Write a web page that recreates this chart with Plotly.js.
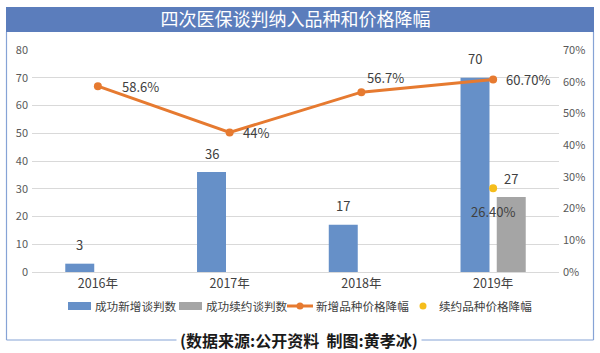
<!DOCTYPE html>
<html>
<head>
<meta charset="utf-8">
<script src="https://cdn.plot.ly/plotly-3.0.1.min.js"></script>
<style>html,body{margin:0;padding:0;background:#fff;}#chart{width:600px;height:353px;}</style>
</head>
<body>
<div id="chart"></div>
<script>
// ---- data ----
const categories = ['2016年', '2017年', '2018年', '2019年'];
const newCount = [3, 36, 17, 70];          // 成功新增谈判数
const renewCount = [null, null, null, 27];  // 成功续约谈判数
const newDrop = [0.586, 0.44, 0.567, 0.607];  // 新增品种价格降幅
const newDropLabels = ['58.6%', '44%', '56.7%', '60.70%'];
const renewDrop = [null, null, null, 0.264];  // 续约品种价格降幅
const renewDropLabels = [null, null, null, '26.40%'];
const seriesNames = ['成功新增谈判数', '成功续约谈判数', '新增品种价格降幅', '续约品种价格降幅'];
const titleText = '四次医保谈判纳入品种和价格降幅';
const sourceText = '(数据来源:公开资料  制图:黄孝冰)';

// ---- style ----
const FONT = '"Noto Sans CJK SC", "Noto Sans", sans-serif';
const BLUE = '#6690c8', GREY = '#a5a5a5', ORANGE = '#e67a30', YELLOW = '#f5bd1c';
const bargap = 0.45, bargroupgap = 0.2;
// label offsets (px) for line labels: [xshift, yshift, xanchor]
const newLabelPos = [[22, 0, 'left'], [11, 0, 'left'], [4, 15, 'left'], [11, 0, 'left']];
const renewLabelPos = [0, -23, 'center'];
// legend layout (px): swatch left edge / centre and text left edge for each entry
const legendSwatchX = [68, 179, 287, 423];
const legendTextX = [94, 205, 315, 438];
const legendY = 306;

// plot area in px
const L = 32, R = 41, T = 50, B = 81, W = 600, H = 353;
const pw = W - L - R, ph = H - T - B;
const px = v => (v - L) / pw;
const py = v => (H - B - v) / ph;

const traces = [
  {type: 'bar', name: seriesNames[0], x: categories, y: newCount, marker: {color: BLUE}, yaxis: 'y'},
  {type: 'bar', name: seriesNames[1], x: categories, y: renewCount, marker: {color: GREY}, yaxis: 'y'},
  {type: 'scatter', mode: 'lines+markers', name: seriesNames[2], x: categories, y: newDrop, yaxis: 'y2',
   line: {color: ORANGE, width: 3}, marker: {color: ORANGE, size: 8}},
  {type: 'scatter', mode: 'markers', name: seriesNames[3], x: categories, y: renewDrop, yaxis: 'y2',
   marker: {color: YELLOW, size: 8}}
];

// bar slot offset in px
const catW = pw / categories.length;
const slot = catW * (1 - bargap) / 2;
const LBL = {family: FONT, size: 13, color: '#404040'};
const annotations = [];
newCount.forEach((v, i) => {
  if (v == null) return;
  annotations.push({x: categories[i], y: v, xref: 'x', yref: 'y', text: String(v), showarrow: false,
    xshift: -slot / 2, yshift: 19, yanchor: 'middle', font: LBL});
});
renewCount.forEach((v, i) => {
  if (v == null) return;
  annotations.push({x: categories[i], y: v, xref: 'x', yref: 'y', text: String(v), showarrow: false,
    xshift: slot / 2, yshift: 19, yanchor: 'middle', font: LBL});
});
newDrop.forEach((v, i) => {
  const p = newLabelPos[i];
  annotations.push({x: categories[i], y: v, xref: 'x', yref: 'y2', text: newDropLabels[i], showarrow: false,
    xshift: p[0], yshift: p[1], xanchor: p[2], yanchor: 'middle', font: LBL});
});
renewDrop.forEach((v, i) => {
  if (v == null) return;
  annotations.push({x: categories[i], y: v, xref: 'x', yref: 'y2', text: renewDropLabels[i], showarrow: false,
    xshift: renewLabelPos[0], yshift: renewLabelPos[1], xanchor: renewLabelPos[2], yanchor: 'middle', font: LBL});
});
annotations.push({xref: 'paper', yref: 'paper', x: px(299), y: py(340), text: '<b>' + sourceText + '</b>',
  showarrow: false, xanchor: 'center', yanchor: 'middle', bgcolor: '#ffffff', borderpad: 3,
  font: {family: FONT, size: 16, color: '#1a1a1a'}});
// legend texts
seriesNames.forEach((n, i) => {
  annotations.push({xref: 'paper', yref: 'paper', x: px(legendTextX[i]), y: py(legendY), text: n, showarrow: false,
    xanchor: 'left', yanchor: 'middle', borderpad: 0, font: {family: FONT, size: 11.6, color: '#404040'}});
});

const BORDER = '#86a3d6';
const shapes = [
  {type: 'rect', xref: 'paper', yref: 'paper', x0: px(6), x1: px(594), y0: py(32), y1: py(7),
   fillcolor: '#5b7dbc', line: {width: 0}, layer: 'below'},
  {type: 'line', xref: 'paper', yref: 'paper', x0: px(6.5), x1: px(6.5), y0: py(32), y1: py(340), line: {color: BORDER, width: 1.2}},
  {type: 'line', xref: 'paper', yref: 'paper', x0: px(593.5), x1: px(593.5), y0: py(32), y1: py(340), line: {color: BORDER, width: 1.2}},
  {type: 'line', xref: 'paper', yref: 'paper', x0: px(6.5), x1: px(593.5), y0: py(340), y1: py(340), line: {color: BORDER, width: 1.2}},
  // legend swatches
  {type: 'rect', xref: 'paper', yref: 'paper', x0: px(legendSwatchX[0]), x1: px(legendSwatchX[0] + 23), y0: py(legendY + 4), y1: py(legendY - 4),
   fillcolor: BLUE, line: {width: 0}},
  {type: 'rect', xref: 'paper', yref: 'paper', x0: px(legendSwatchX[1]), x1: px(legendSwatchX[1] + 23), y0: py(legendY + 4), y1: py(legendY - 4),
   fillcolor: GREY, line: {width: 0}},
  {type: 'line', xref: 'paper', yref: 'paper', x0: px(legendSwatchX[2]), x1: px(legendSwatchX[2] + 26), y0: py(legendY), y1: py(legendY),
   line: {color: ORANGE, width: 3}},
  {type: 'circle', xref: 'paper', yref: 'paper', x0: px(legendSwatchX[2] + 9.5), x1: px(legendSwatchX[2] + 16.5), y0: py(legendY + 3.5), y1: py(legendY - 3.5),
   fillcolor: ORANGE, line: {width: 0}},
  {type: 'circle', xref: 'paper', yref: 'paper', x0: px(legendSwatchX[3] - 3.5), x1: px(legendSwatchX[3] + 3.5), y0: py(legendY + 3.5), y1: py(legendY - 3.5),
   fillcolor: YELLOW, line: {width: 0}}
];

const layout = {
  width: W, height: H,
  margin: {l: L, r: R, t: T, b: B, pad: 0},
  paper_bgcolor: '#ffffff', plot_bgcolor: '#ffffff',
  font: {family: FONT, color: '#595959'},
  title: {text: titleText, x: 0.5, xref: 'paper', xanchor: 'center', y: 1 - 19.5 / H, yref: 'container', yanchor: 'middle',
          font: {family: FONT, size: 18, color: '#ffffff'}},
  barmode: 'group', bargap: bargap, bargroupgap: bargroupgap,
  xaxis: {type: 'category', showgrid: false, showline: true, linecolor: '#d9d9d9', linewidth: 1,
          ticks: '', tickfont: {family: FONT, size: 12.5, color: '#404040'}, fixedrange: true},
  yaxis: {range: [0, 80], dtick: 10, showgrid: true, gridcolor: '#d9d9d9', gridwidth: 1, zeroline: false,
          ticks: '', tickfont: {family: FONT, size: 11, color: '#595959'}, ticklabelstandoff: 3},
  yaxis2: {range: [0, 0.7], dtick: 0.1, tickformat: '.0%', overlaying: 'y', side: 'right', showgrid: false,
           zeroline: false, ticks: '', tickfont: {family: FONT, size: 11, color: '#595959'}, ticklabelstandoff: 3},
  showlegend: false,
  annotations: annotations,
  shapes: shapes
};

Plotly.newPlot('chart', traces, layout, {displayModeBar: false, staticPlot: true});
</script>
</body>
</html>
